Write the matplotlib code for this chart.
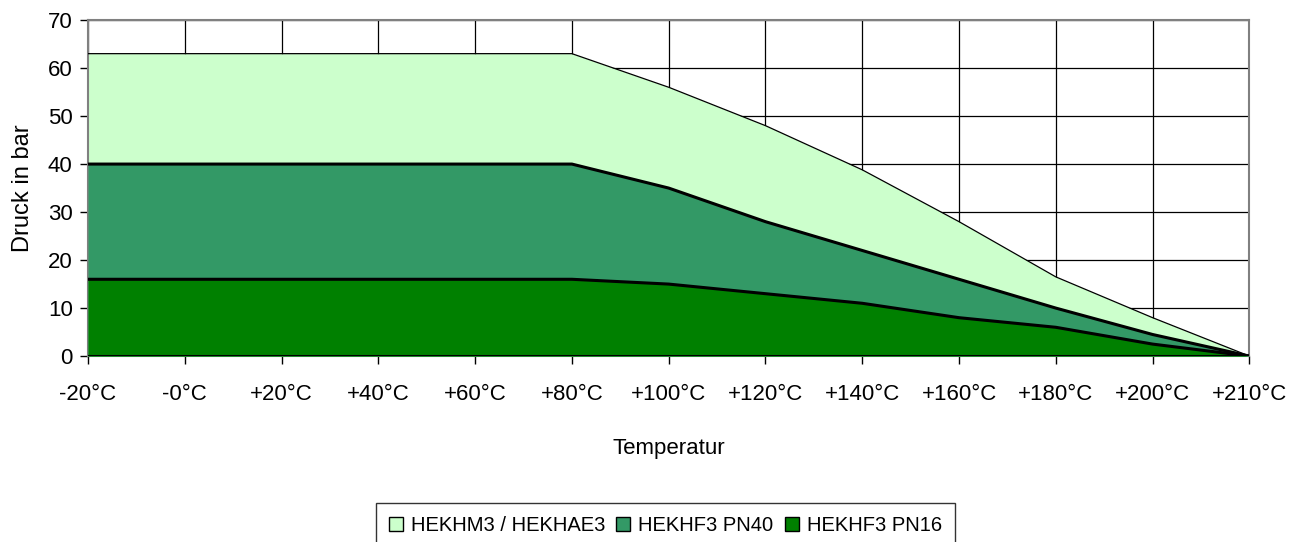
import matplotlib
matplotlib.use("Agg")
import matplotlib.pyplot as plt
from matplotlib.patches import Patch

plt.rcParams['font.family'] = ['Liberation Sans', 'DejaVu Sans']

temps = ["-20°C", "-0°C", "+20°C", "+40°C", "+60°C", "+80°C", "+100°C",
         "+120°C", "+140°C", "+160°C", "+180°C", "+200°C", "+210°C"]
hekhm3 = [63, 63, 63, 63, 63, 63, 56, 48, 38.8, 28, 16.5, 8, 0]
pn40 = [40, 40, 40, 40, 40, 40, 35, 28, 22, 16, 10, 4.5, 0]
pn16 = [16, 16, 16, 16, 16, 16, 15, 13, 11, 8, 6, 2.5, 0]
names = ["HEKHM3 / HEKHAE3", "HEKHF3 PN40", "HEKHF3 PN16"]
colors = ["#ccffcc", "#339966", "#008000"]

fig = plt.figure(figsize=(13.02, 5.42), dpi=100)
ax = fig.add_axes([0.0676, 0.343, 0.892, 0.62])

x = list(range(len(temps)))
ax.fill_between(x, hekhm3, color=colors[0], lw=0, zorder=2)
ax.plot(x, hekhm3, color="black", lw=0.9, zorder=3)
ax.fill_between(x, pn40, color=colors[1], lw=0, zorder=4)
ax.plot(x, pn40, color="black", lw=2.2, zorder=5)
ax.fill_between(x, pn16, color=colors[2], lw=0, zorder=6)
ax.plot(x, pn16, color="black", lw=2.2, zorder=7)
ax.axhline(0, color="black", lw=2.2, zorder=8)

ax.set_xlim(0, len(temps) - 1)
ax.set_ylim(0, 70)
ax.set_xticks(x)
ax.set_xticklabels(temps)
ax.set_yticks(range(0, 71, 10))
ax.grid(True, color="black", lw=0.9, zorder=1)
ax.set_axisbelow(True)
for s in ax.spines.values():
    s.set_color("#808080")
    s.set_linewidth(1.5)
ax.tick_params(axis="both", labelsize=16, length=6, width=1, color="black",
               direction="out")
ax.tick_params(axis="x", pad=14)
ax.tick_params(axis="y", pad=5)

ax.set_ylabel("Druck in bar", fontsize=17, labelpad=10)
ax.set_xlabel("Temperatur", fontsize=16, labelpad=24)

handles = [Patch(facecolor=c, edgecolor="black", lw=1) for c in colors]
leg = fig.legend(handles, names, loc="lower center", bbox_to_anchor=(0.511, -0.03),
                 ncol=3, fontsize=14.5, frameon=True, fancybox=False,
                 edgecolor="black", handlelength=0.7, handleheight=0.7,
                 handletextpad=0.4, columnspacing=0.55, borderpad=0.65)
leg.get_frame().set_linewidth(1)

fig.savefig("out.png", dpi=100)
